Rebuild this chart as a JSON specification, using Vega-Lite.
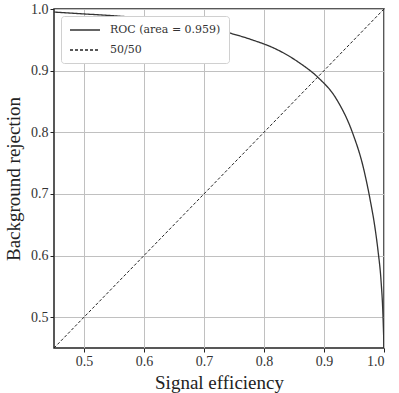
{
  "$schema": "https://vega.github.io/schema/vega-lite/v6.json",
  "autosize": {"type": "none"},
  "padding": {"left": 54, "top": 9, "right": 15, "bottom": 45},
  "width": 330,
  "height": 339,
  "background": "white",
  "config": {
    "font": "Liberation Serif",
    "view": {"stroke": "#222", "strokeWidth": 1.5},
    "axis": {
      "domain": false,
      "grid": true,
      "gridColor": "#c0c0c0",
      "gridWidth": 1,
      "tickColor": "#222",
      "tickSize": 4,
      "labelColor": "#333",
      "titleColor": "#222",
      "labelFont": "Liberation Serif",
      "titleFont": "Liberation Serif",
      "labelFontSize": 14,
      "titleFontSize": 19,
      "titleFontWeight": "normal"
    }
  },
  "datasets": {
    "roc": [
      {"x": 0.45, "y": 0.995, "series": "ROC (area = 0.959)"},
      {"x": 0.5, "y": 0.992, "series": "ROC (area = 0.959)"},
      {"x": 0.55, "y": 0.989, "series": "ROC (area = 0.959)"},
      {"x": 0.6, "y": 0.985, "series": "ROC (area = 0.959)"},
      {"x": 0.65, "y": 0.979, "series": "ROC (area = 0.959)"},
      {"x": 0.7, "y": 0.971, "series": "ROC (area = 0.959)"},
      {"x": 0.735, "y": 0.963, "series": "ROC (area = 0.959)"},
      {"x": 0.78, "y": 0.950, "series": "ROC (area = 0.959)"},
      {"x": 0.82, "y": 0.935, "series": "ROC (area = 0.959)"},
      {"x": 0.86, "y": 0.912, "series": "ROC (area = 0.959)"},
      {"x": 0.89, "y": 0.889, "series": "ROC (area = 0.959)"},
      {"x": 0.92, "y": 0.855, "series": "ROC (area = 0.959)"},
      {"x": 0.948, "y": 0.798, "series": "ROC (area = 0.959)"},
      {"x": 0.965, "y": 0.745, "series": "ROC (area = 0.959)"},
      {"x": 0.977, "y": 0.69, "series": "ROC (area = 0.959)"},
      {"x": 0.985, "y": 0.645, "series": "ROC (area = 0.959)"},
      {"x": 0.99, "y": 0.608, "series": "ROC (area = 0.959)"},
      {"x": 0.995, "y": 0.56, "series": "ROC (area = 0.959)"},
      {"x": 0.998, "y": 0.51, "series": "ROC (area = 0.959)"},
      {"x": 1.0, "y": 0.45, "series": "ROC (area = 0.959)"}
    ],
    "diag": [
      {"x": 0.45, "y": 0.45, "series": "50/50"},
      {"x": 1.0, "y": 1.0, "series": "50/50"}
    ]
  },
  "encoding": {
    "x": {"field": "x", "type": "quantitative", "title": "Signal efficiency",
          "scale": {"domain": [0.45, 1.0], "nice": false, "zero": false},
          "axis": {"values": [0.5, 0.6, 0.7, 0.8, 0.9, 1.0], "format": ".1f", "titlePadding": 5}},
    "y": {"field": "y", "type": "quantitative", "title": "Background rejection",
          "scale": {"domain": [0.45, 1.0], "nice": false, "zero": false},
          "axis": {"values": [0.5, 0.6, 0.7, 0.8, 0.9, 1.0], "format": ".1f", "titlePadding": 7}},
    "color": {"field": "series", "type": "nominal",
              "scale": {"domain": ["ROC (area = 0.959)", "50/50"], "range": ["#333333", "#222222"]},
              "legend": {"title": null, "orient": "top-left", "offset": 7, "symbolType": "M-1,0H5",
                         "symbolSize": 100, "symbolStrokeWidth": 1.5, "labelFontSize": 11,
                         "labelFont": "DejaVu Serif", "fillColor": "white", "strokeColor": "#d0d0d0",
                         "cornerRadius": 3, "padding": 8, "rowPadding": 9, "labelOffset": 29, "labelColor": "#333"}},
    "strokeDash": {"field": "series", "type": "nominal",
                   "scale": {"domain": ["ROC (area = 0.959)", "50/50"], "range": [[1, 0], [3, 2]]},
                   "legend": null}
  },
  "layer": [
    {"data": {"name": "diag"}, "mark": {"type": "line", "strokeWidth": 1, "clip": true}},
    {"data": {"name": "roc"}, "mark": {"type": "line", "strokeWidth": 1.3, "clip": true, "interpolate": "monotone"}}
  ]
}
